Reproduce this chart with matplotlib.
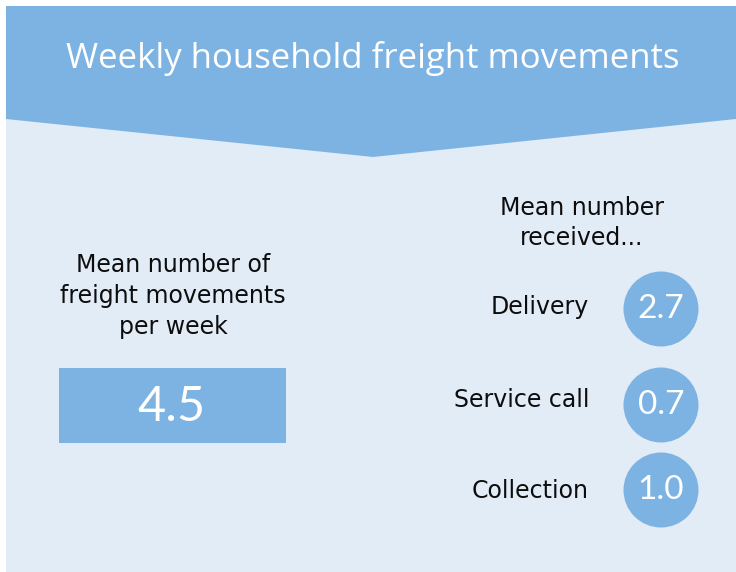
import matplotlib
matplotlib.use("Agg")
import matplotlib.pyplot as plt
from matplotlib.patches import Rectangle, Polygon, Circle

# Data
title = "Weekly household freight movements"
total_label = "Mean number of\nfreight movements\nper week"
total_value = 4.5
received_label = "Mean number\nreceived..."
categories = ["Delivery", "Service call", "Collection"]
values = [2.7, 0.7, 1.0]

dark = "#7db3e2"
light = "#e2ecf7"

fig = plt.figure(figsize=(7.36, 5.72), dpi=100)
ax = fig.add_axes([0, 0, 1, 1])
ax.set_xlim(0, 736)
ax.set_ylim(572, 0)
ax.set_aspect("equal")
ax.axis("off")

# background panel and header
ax.add_patch(Rectangle((6, 6), 730, 566, color=light, lw=0))
ax.add_patch(Polygon([(6, 6), (736, 6), (736, 119), (373, 157), (6, 119)],
                     closed=True, color=dark, lw=0))
ax.text(373, 58, title, color="white", fontsize=25, family="Open Sans",
        ha="center", va="center")

body = dict(family="DejaVu Sans", fontsize=17, color="#0d0d0d")

# left block: overall mean
ax.text(173, 296, total_label, ha="center", va="center",
        linespacing=1.35, **body)
ax.add_patch(Rectangle((59, 368), 227, 75, color=dark, lw=0))
ax.text(172, 407, f"{total_value:.1f}", color="white", fontsize=35,
        family="Lato", ha="center", va="center")

# right block: by type
ax.text(582, 223, received_label, ha="center", va="center",
        linespacing=1.35, **body)
circle_y = [309, 405, 490]
label_y = [307, 400, 491]
for cat, val, cy, ly in zip(categories, values, circle_y, label_y):
    ax.text(589, ly, cat, ha="right", va="center", **body)
    ax.add_patch(Circle((661, cy), 37.5, color=dark, lw=0))
    ax.text(661, cy, f"{val:.1f}", color="white", fontsize=24,
            family="Lato", ha="center", va="center")

fig.savefig("out.png", dpi=100, facecolor="white")
